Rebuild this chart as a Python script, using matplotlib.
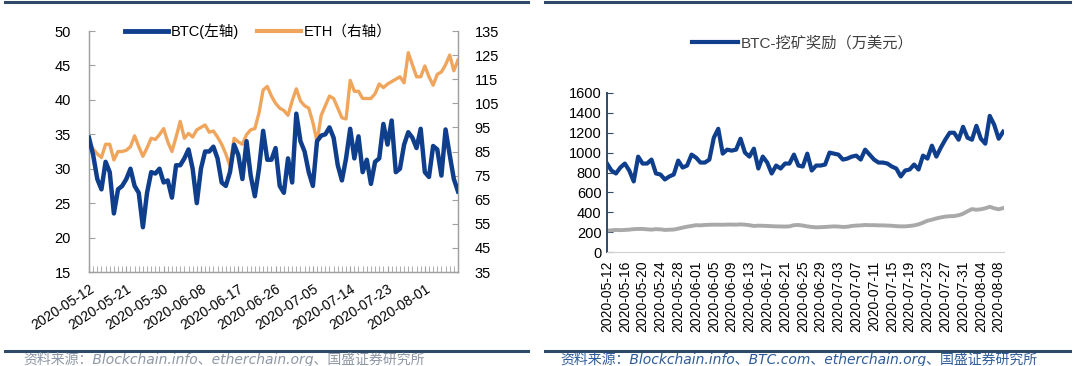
import numpy as np
import pandas as pd
import matplotlib
matplotlib.use("Agg")
import matplotlib.pyplot as plt
from matplotlib.lines import Line2D

plt.rcParams['font.family'] = ['Liberation Sans', 'Noto Sans CJK SC']

# ---------------- data ----------------
dates = pd.date_range('2020-05-12', periods=90, freq='D')
date_labels = dates.strftime('%Y-%m-%d').tolist()

btc_active = [34.5, 32, 28.5, 27, 31, 29.5, 23.5, 27, 27.5, 28.5,
              30, 27.5, 26.5, 21.5, 26.5, 29.5, 29.3, 30, 28, 28.3,
              25.8, 30.5, 30.5, 31.5, 32.8, 30, 25, 30, 32.5, 32.5,
              33.2, 31.5, 28, 27.5, 29.5, 33.5, 32, 28.5, 34, 29,
              26, 30, 35.5, 31.3, 31.3, 33, 27.5, 26.5, 31.5, 28,
              38, 34, 32.5, 29.5, 27.5, 34, 34.8, 35, 36, 34.5,
              30.5, 28.3, 31.5, 35.8, 31.5, 34.7, 29.5, 31.3, 27.8, 31,
              31.5, 36.5, 33.5, 37, 29.5, 30, 33.5, 35.3, 34.5, 33,
              35.8, 29.5, 28.8, 33.3, 32.8, 29, 35.7, 32, 28.5, 26.7]

eth_active = [88.5, 86, 84, 82.5, 88, 88, 81.5, 85, 85, 85.5,
              87, 91.5, 87, 83, 86.5, 90.5, 90, 92, 94.5, 89,
              85, 91, 97.5, 90.5, 92.5, 91, 94, 95, 96, 93,
              93.5, 91, 88, 84, 79, 90.5, 89, 88, 92, 94,
              94.5, 101, 110.5, 112, 108, 105, 103, 102, 100, 106,
              111, 106, 104, 103, 97, 89, 100, 104, 108, 107,
              103, 99, 98.5, 114.5, 110, 110, 107, 107, 107, 109,
              113, 111.5, 113, 114, 115, 116, 113.5, 126, 121, 116,
              116, 120.5, 116, 112.5, 117, 118, 121, 125, 118.5, 123]

btc_reward = [890, 820, 790, 850, 890, 820, 710, 960, 890, 890,
              930, 790, 780, 730, 760, 780, 920, 850, 870, 980,
              950, 900, 900, 930, 1150, 1240, 990, 1030, 1020, 1030,
              1140, 1000, 960, 1040, 840, 960, 900, 790, 870, 840,
              890, 890, 980, 870, 860, 990, 820, 870, 870, 880,
              1000, 990, 980, 930, 940, 960, 970, 930, 1030, 980,
              930, 900, 900, 890, 860, 840, 760, 820, 830, 880,
              830, 970, 940, 1070, 960, 1050, 1130, 1200, 1200, 1130,
              1260, 1150, 1130, 1270, 1140, 1090, 1370, 1280, 1140, 1210]

eth_reward = [215, 218, 222, 220, 222, 225, 230, 232, 232, 228,
              225, 230, 228, 222, 224, 226, 235, 245, 255, 262,
              270, 268, 272, 274, 275, 275, 274, 276, 276, 275,
              278, 275, 270, 262, 265, 264, 262, 260, 258, 257,
              256, 258, 270, 272, 266, 258, 252, 248, 250, 252,
              255, 258, 256, 252, 254, 262, 266, 268, 272, 270,
              270, 268, 268, 266, 264, 260, 258, 258, 262, 268,
              278, 295, 315, 325, 338, 348, 356, 360, 362, 370,
              385, 410, 432, 425, 430, 440, 455, 440, 430, 442]

x = np.arange(len(dates))

blue = '#0f3f8c'
orange = '#f0a55c'
grey = '#a9a9a9'
frame = '#2f4a68'

fig = plt.figure(figsize=(10.8, 3.66), dpi=100)

# ---------------- left: active addresses ----------------
ax = fig.add_axes([89 / 1080, 1 - 272 / 366, 369 / 1080, 241 / 366])
ax2 = ax.twinx()
ax.plot(x, btc_active, color=blue, lw=3.2, zorder=3)
ax2.plot(x, eth_active, color=orange, lw=2.4)
ax.set_zorder(ax2.get_zorder() + 1)
ax.patch.set_visible(False)

ax.set_xlim(0, 89)
ax.set_ylim(15, 50)
ax.set_yticks(np.arange(15, 51, 5))
ax2.set_ylim(35, 135)
ax2.set_yticks(np.arange(35, 136, 10))

tick_pos = x[::9]
ax.set_xticks(tick_pos)
ax.set_xticklabels([date_labels[i] for i in tick_pos], rotation=33,
                   ha='right', va='top', rotation_mode='anchor')
ax.set_xticks(x, minor=True)
ax.tick_params(axis='x', which='both', direction='in', length=4,
               color='#a0a0a0', labelsize=10, pad=7)
ax.tick_params(axis='y', direction='in', length=4, color='#a0a0a0',
               labelsize=10.5, pad=13)
ax2.tick_params(axis='y', direction='in', length=4, color='#a0a0a0',
                labelsize=10.5, pad=12)
for a in (ax, ax2):
    a.spines['top'].set_visible(False)
    for s in ('left', 'right', 'bottom'):
        a.spines[s].set_color('#a0a0a0')
        a.spines[s].set_linewidth(0.9)

handles = [Line2D([], [], color=blue, lw=3.5),
           Line2D([], [], color=orange, lw=3.0)]
ax.legend(handles, ['BTC(左轴)', 'ETH（右轴）'], loc='center',
          bbox_to_anchor=(258 / 1080, 1 - 31 / 366),
          bbox_transform=fig.transFigure, ncol=2, frameon=False,
          fontsize=10.5, handlelength=3.0, handletextpad=0.2,
          columnspacing=1.2)

# ---------------- right: mining reward ----------------
bx = fig.add_axes([607 / 1080, 1 - 252 / 366, 397 / 1080, 159 / 366])
bx.plot(x, eth_reward, color=grey, lw=2.8)
bx.plot(x, btc_reward, color=blue, lw=3.0, label='BTC-挖矿奖励（万美元）')
bx.set_xlim(0, 89.2)
bx.set_ylim(0, 1600)
bx.set_yticks(np.arange(0, 1601, 200))
tick_pos2 = x[:89:4]
bx.set_xticks(tick_pos2)
bx.set_xticklabels([date_labels[i] for i in tick_pos2], rotation=90)
bx.tick_params(axis='x', length=0, labelsize=10, pad=6)
bx.tick_params(axis='y', direction='in', length=4, color=frame,
               labelsize=10.5, pad=4)
bx.spines['top'].set_visible(False)
bx.spines['right'].set_visible(False)
bx.spines['left'].set_color(frame)
bx.spines['left'].set_linewidth(1.4)
bx.spines['bottom'].set_color('#d0d0d0')
bx.legend(loc='center', bbox_to_anchor=(803 / 1080, 1 - 43 / 366),
          bbox_transform=fig.transFigure, frameon=False, fontsize=11,
          handlelength=3.0, handletextpad=0.2, labelcolor='#404040')

# ---------------- frame lines and sources ----------------
for x0, x1 in ((5, 528), (545, 1070)):
    fig.add_artist(Line2D([x0 / 1080, x1 / 1080], [1 - 2 / 366, 1 - 2 / 366],
                          color=frame, lw=2.2))
    fig.add_artist(Line2D([x0 / 1080, x1 / 1080], [1 - 351 / 366, 1 - 351 / 366],
                          color=frame, lw=2.2))

fig.text(23 / 1080, 1 - 359 / 366, '资料来源：Blockchain.info、etherchain.org、国盛证券研究所',
         fontsize=10, color='#8e98a6', va='center', style='italic',
         family=['DejaVu Sans', 'Noto Sans CJK SC'])
fig.text(560 / 1080, 1 - 359 / 366, '资料来源：Blockchain.info、BTC.com、etherchain.org、国盛证券研究所',
         fontsize=10, color='#2e5c9a', va='center', style='italic',
         family=['DejaVu Sans', 'Noto Sans CJK SC'])

fig.savefig('out.png', dpi=100)
